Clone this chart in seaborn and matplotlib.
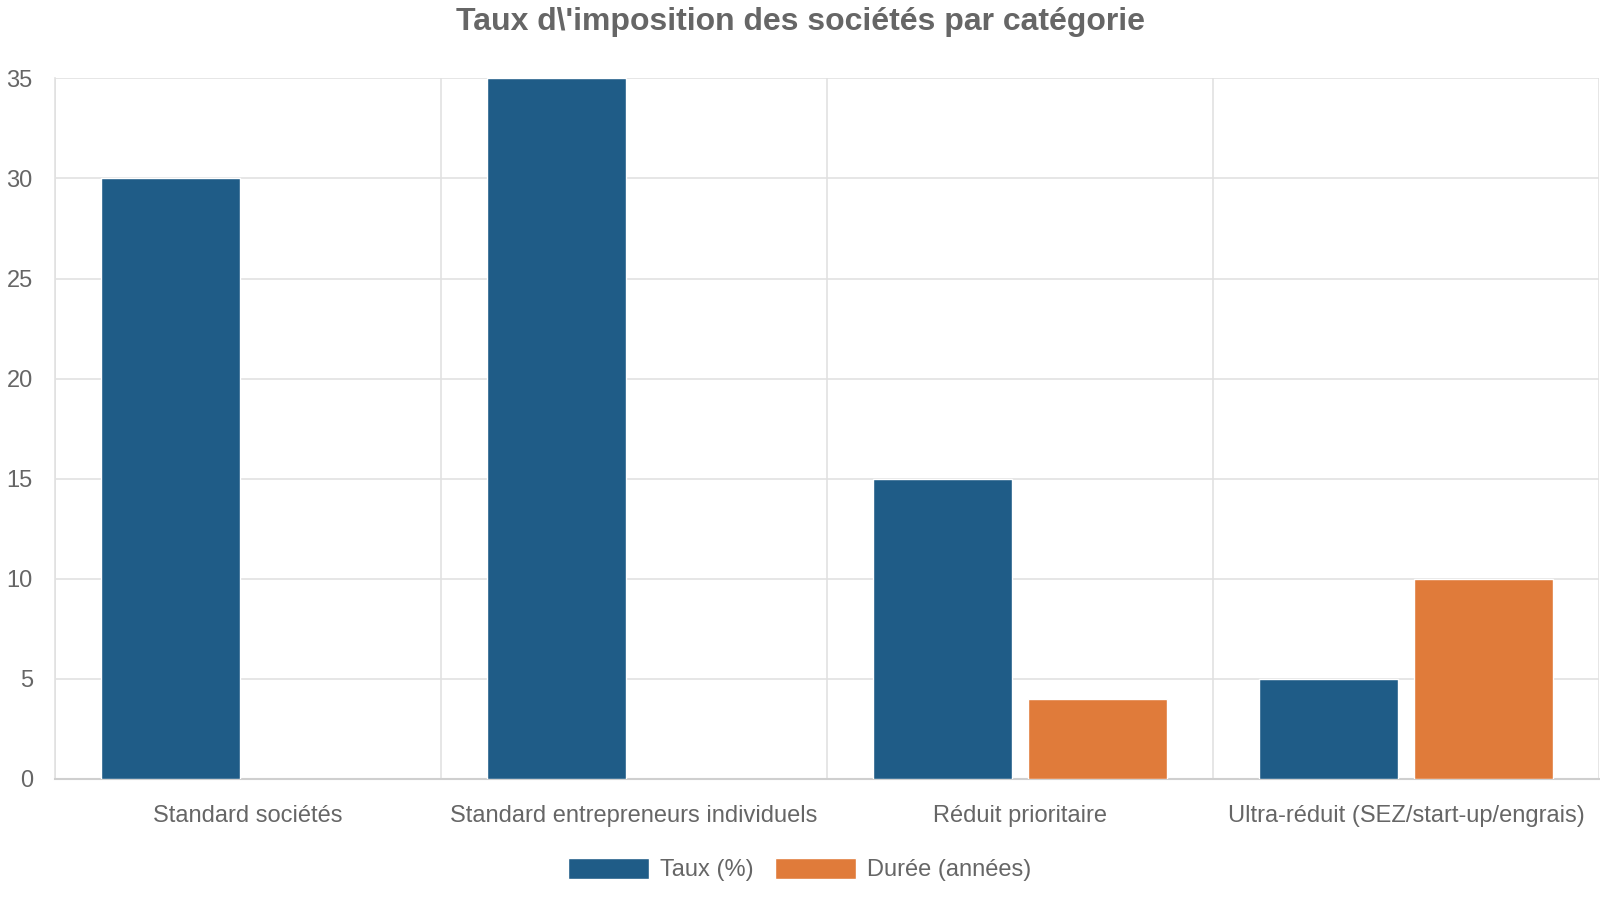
import matplotlib
matplotlib.use("Agg")
import matplotlib.pyplot as plt
import seaborn as sns
import numpy as np
import pandas as pd

# ---- data ----
categories = ["Standard sociétés", "Standard entrepreneurs individuels",
              "Réduit prioritaire", "Ultra-réduit (SEZ/start-up/engrais)"]
taux = [30, 35, 15, 5]
duree = [np.nan, np.nan, 4, 10]
series = ["Taux (%)", "Durée (années)"]
colors = ["#1f5c87", "#e07b3a"]

df = pd.DataFrame({
    "categorie": categories * 2,
    "serie": [series[0]] * len(categories) + [series[1]] * len(categories),
    "valeur": taux + duree,
})

# ---- style ----
sns.set_style("white")
plt.rcParams["font.family"] = ["Liberation Sans", "DejaVu Sans"]
text_col = "#666666"
grid_col = "#e1e1e1"

fig = plt.figure(figsize=(16, 9), dpi=100)
ax = fig.add_axes([0.0344, 0.1349, 0.9650, 0.7779])

sns.barplot(data=df, x="categorie", y="valeur", hue="serie",
            order=categories, hue_order=series, palette=colors,
            width=0.8, gap=0.1, saturation=1, errorbar=None,
            legend=False, ax=ax, zorder=3)

ax.set_xlim(-0.5, len(categories) - 0.5)
ax.set_ylim(0, 35)
ax.set_yticks(np.arange(0, 36, 5))
ax.set_xlabel("")
ax.set_ylabel("")

# grid: horizontal on values, vertical on category borders
ax.set_xticks(np.arange(-0.5, len(categories), 1), minor=True)
ax.grid(axis="y", color=grid_col, linewidth=1.2, zorder=0)
ax.grid(axis="x", which="minor", color=grid_col, linewidth=1.2, zorder=0)
ax.set_axisbelow(True)

ax.tick_params(axis="x", which="major", length=0, pad=19,
               labelsize=17, labelcolor=text_col)
ax.tick_params(axis="x", which="minor", length=11, color=grid_col, width=1.2)
ax.tick_params(axis="y", length=8, color=grid_col, width=1.2, pad=8,
               labelsize=17, labelcolor=text_col)

for side in ["top", "right"]:
    ax.spines[side].set_visible(False)
ax.spines["left"].set_color(grid_col)
ax.spines["left"].set_linewidth(1.2)
ax.spines["bottom"].set_color("#cfcfcf")
ax.spines["bottom"].set_linewidth(1.5)

fig.suptitle("Taux d\\'imposition des sociétés par catégorie", y=0.976,
             va="center", fontsize=23, fontweight="bold", color=text_col)

handles = [plt.Rectangle((0, 0), 1, 1, facecolor=c) for c in colors]
fig.legend(handles, series, loc="center", bbox_to_anchor=(0.5, 0.034),
           ncol=2, frameon=False, fontsize=17, labelcolor=text_col,
           handlelength=3.4, handleheight=1.0, handletextpad=0.5,
           columnspacing=0.9)

fig.savefig("out.png", dpi=100)
